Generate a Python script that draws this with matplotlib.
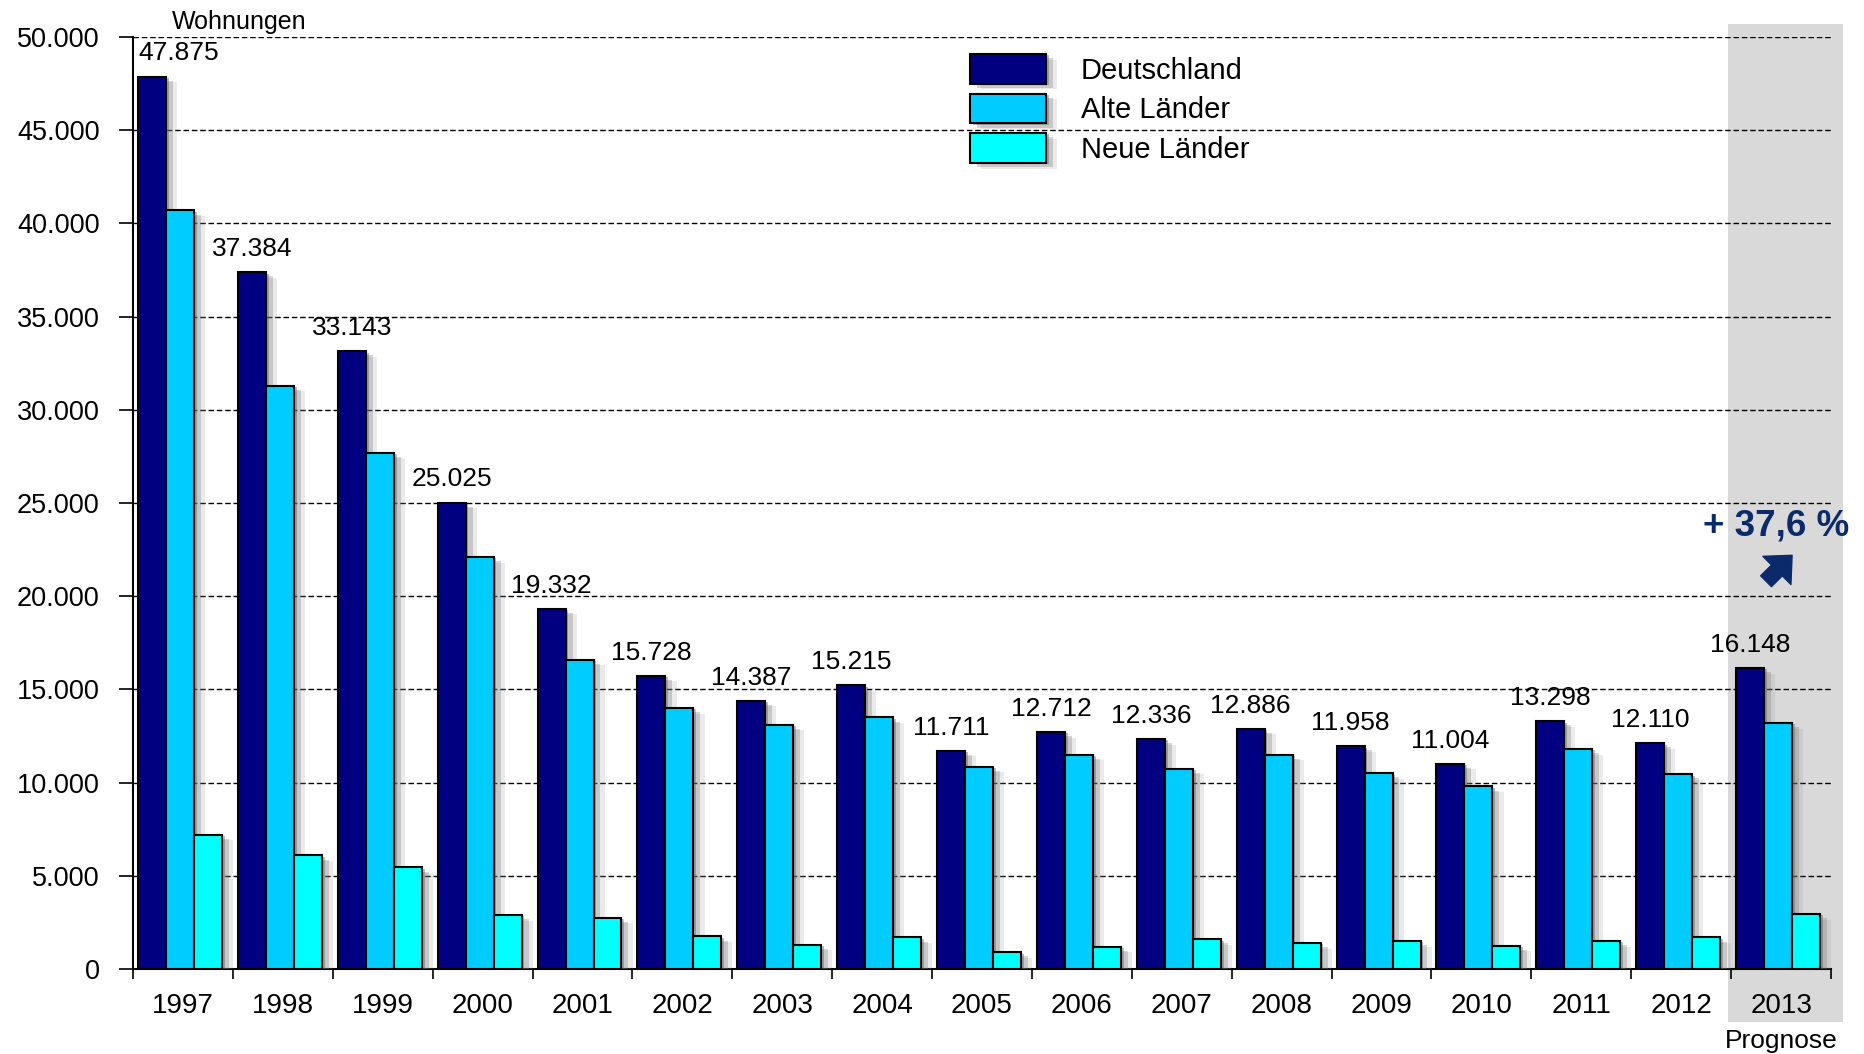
import matplotlib
matplotlib.use("Agg")
import matplotlib.pyplot as plt
import matplotlib.patheffects as pe
from matplotlib.patches import Rectangle
import numpy as np

plt.rcParams['font.family'] = ['Liberation Sans', 'DejaVu Sans']

# Baufertigstellungen (Wohnungen) 1997-2013
years = ["1997", "1998", "1999", "2000", "2001", "2002", "2003", "2004", "2005",
         "2006", "2007", "2008", "2009", "2010", "2011", "2012", "2013"]
deutschland = [47875, 37384, 33143, 25025, 19332, 15728, 14387, 15215, 11711,
               12712, 12336, 12886, 11958, 11004, 13298, 12110, 16148]
alte_laender = [40700, 31300, 27700, 22100, 16600, 14000, 13100, 13500, 10850,
                11500, 10750, 11500, 10500, 9800, 11800, 10450, 13200]
neue_laender = [7200, 6100, 5450, 2900, 2750, 1750, 1300, 1700, 900,
                1200, 1600, 1400, 1500, 1250, 1500, 1700, 2950]
series_names = ["Deutschland", "Alte Länder", "Neue Länder"]
colors = ["#000080", "#00CCFF", "#00FFFF"]
growth_label = "+ 37,6 %"

def fmt(v):
    return f"{v:,}".replace(",", ".")

fig = plt.figure(figsize=(18.64, 10.54), dpi=100)
ax = fig.add_axes([0.0714, 0.0806, 0.9109, 0.8843])
ax.patch.set_visible(False)

# grey box behind forecast year
fig.patches.append(Rectangle((1728 / 1864, 1 - 1022 / 1054), 115 / 1864, 998 / 1054,
                             transform=fig.transFigure, facecolor="#D9D9D9",
                             edgecolor="none", zorder=-5))

x = np.arange(len(years))
width = 0.28
shadow = [pe.SimplePatchShadow(offset=(8, -4), shadow_rgbFace="#999999", alpha=0.2),
          pe.SimplePatchShadow(offset=(5, -3), shadow_rgbFace="#777777", alpha=0.3),
          pe.SimplePatchShadow(offset=(2, -1), shadow_rgbFace="#555555", alpha=0.4),
          pe.Normal()]

bars = []
for i, (vals, name, col) in enumerate(zip([deutschland, alte_laender, neue_laender],
                                          series_names, colors)):
    b = ax.bar(x + 0.05 + i * width, vals, width, align="edge", color=col,
               edgecolor="black", linewidth=1.5, label=name, zorder=3)
    for r in b:
        r.set_path_effects(shadow)
    bars.append(b)

# value labels on Deutschland bars
for i, r in enumerate(bars[0]):
    cx = r.get_x() + r.get_width() / 2
    ha = "center"
    if i == 0:
        cx = r.get_x()
        ha = "left"
    ax.annotate(fmt(deutschland[i]), xy=(cx, r.get_height()), xytext=(0, 8),
                textcoords="offset points", ha=ha, va="bottom", fontsize=19)

ax.set_xlim(0, len(years))
ax.set_ylim(0, 50000)
yt = np.arange(0, 50001, 5000)
ax.set_yticks(yt)
ax.set_yticklabels([fmt(v) for v in yt], fontsize=19.5)
ax.tick_params(axis="y", length=10, width=1.2, pad=14)
for v in yt[1:]:
    ax.axhline(v, color="black", linestyle=(0, (4, 2)), linewidth=1, zorder=1)

ax.set_xticks(np.arange(len(years) + 1))
ax.set_xticklabels([])
ax.tick_params(axis="x", which="major", length=7, width=1.2, direction="out")
ax.set_xticks(x + 0.5, minor=True)
ax.set_xticklabels(years, minor=True, fontsize=20)
ax.tick_params(axis="x", which="minor", length=0, pad=17)

for s in ["top", "right"]:
    ax.spines[s].set_visible(False)
for s in ["left", "bottom"]:
    ax.spines[s].set_linewidth(1.5)

fig.text(172 / 1864, 1 - 22 / 1054, "Wohnungen", fontsize=18, va="center", ha="left")
fig.text(1498 / 1568, 1 - 876 / 887, "Prognose", fontsize=19, va="center", ha="center")

ax.text(len(years) - 0.55, 23750, growth_label, fontsize=26.5, fontweight="bold",
        color="#0A2A6B", ha="center", va="center")
ax.annotate("", xy=(16.63, 22300), xytext=(16.33, 20700),
            arrowprops=dict(arrowstyle="simple,head_length=0.7,head_width=1.3,tail_width=0.5",
                            color="#0A2A6B", mutation_scale=22))

ax.legend(loc="upper left", bbox_to_anchor=(970 / 1864, 1 - 54 / 1054),
          bbox_transform=fig.transFigure, frameon=False, fontsize=21,
          handlelength=2.6, handleheight=1.2, labelspacing=0.3, handletextpad=1.2,
          borderpad=0, borderaxespad=0)

plt.savefig("out.png", dpi=100)
plt.close()
